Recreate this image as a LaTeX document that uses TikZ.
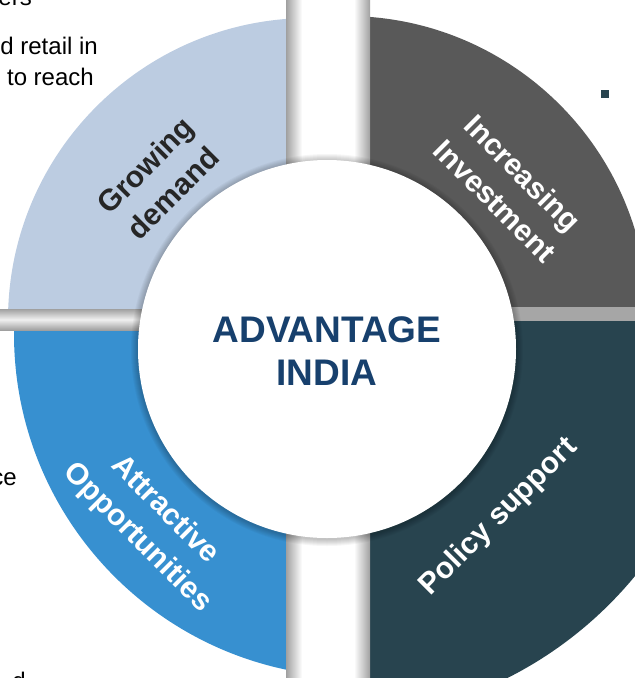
\documentclass[tikz,border=0pt]{standalone}
\usepackage{fontspec}
\setmainfont{Liberation Sans}
\definecolor{lblue}{HTML}{BCCCE1}
\definecolor{dgray}{HTML}{595959}
\definecolor{qblue}{HTML}{3790D0}
\definecolor{qteal}{HTML}{28444F}
\definecolor{navy}{HTML}{17406D}
\definecolor{dtext}{HTML}{262626}
\definecolor{bargray}{HTML}{A0A0A0}
\begin{document}
\begin{tikzpicture}[x=1pt,y=-1pt,
  lab/.style={font=\bfseries\fontsize{30}{39}\selectfont, align=center, inner sep=0pt},
  side/.style={font=\fontsize{24}{27}\selectfont, text=black, inner sep=0pt}]
\useasboundingbox (0,0) rectangle (635,678);
\begin{scope}
\clip (0,0) rectangle (635,678);
% quadrants
\begin{scope}\clip (0,0) rectangle (286,309);
  \fill[lblue] (310,320) circle[radius=302pt];\end{scope}
\begin{scope}\clip (370,0) rectangle (635,307);
  \fill[dgray] (346,318) circle[radius=302pt];\end{scope}
\begin{scope}\clip (0,330) rectangle (290,678);
  \fill[qblue] (357,334) circle[radius=343pt];\end{scope}
\begin{scope}\clip (370,321) rectangle (635,678);
  \fill[qteal] (330,325) circle[radius=395pt];\end{scope}
% vertical bar
\fill[white] (286,0) rectangle (370,678);
\shade[left color=bargray, right color=white] (286,0) rectangle (302,678);
\shade[left color=white, right color=bargray] (354,0) rectangle (370,678);
% horizontal bars
\shade[top color=bargray, bottom color=bargray, middle color=gray!12] (0,309) rectangle (150,330);
\fill[gray!70] (480,307) rectangle (635,321);
% inner circle with soft shadow
\foreach \i in {1,...,7}
  \fill[black,opacity=0.035] (327,350) circle[radius={(189+\i)*1pt}];
\fill[white] (327,349) circle[radius=189pt];
\end{scope}
% bullet
\fill[qteal] (601,90) rectangle (609,98);
% title
\node[font=\bfseries\fontsize{37}{43}\selectfont, text=navy, align=center] (title) at (327,351) {ADVANTAGE\\INDIA};
% labels
\node[lab, text=dtext, rotate=45] (grow) at (159,179) {Growing\\demand};
\node[lab, text=white, rotate=-45] (inv) at (509,187) {Increasing\\Investment};
\node[lab, text=white, rotate=45] (pol) at (499,517) {Policy support};
\node[lab, text=white, rotate=-45] (att) at (151,524) {Attractive\\Opportunities};
% cropped side texts
\node[side, anchor=base east] (t1) at (32,5) {ers};
\node[side, anchor=base east] (t2) at (98,54) {d retail in};
\node[side, anchor=base east] (t3) at (94,85) {to reach};
\node[side, anchor=base east] (t4) at (17,485) {ce};
\node[side, anchor=base east] (t5) at (26,689) {d};
\end{tikzpicture}
\end{document}
